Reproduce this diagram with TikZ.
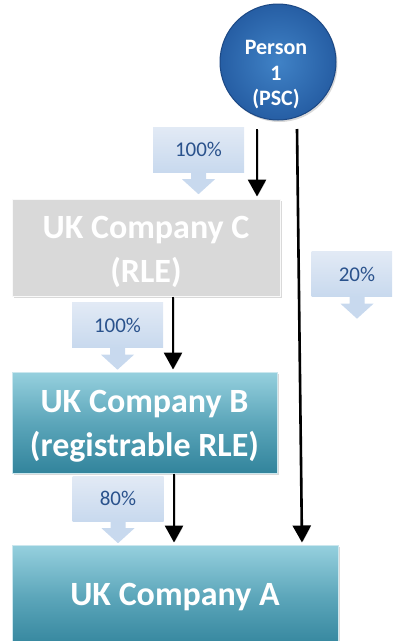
\documentclass[tikz,border=0pt]{standalone}
\usepackage{fontspec}
\setmainfont{Carlito}
\usetikzlibrary{arrows.meta,shadows,calc}
\definecolor{teallight}{RGB}{150,208,222}
\definecolor{tealmid}{RGB}{92,166,186}
\definecolor{tealdark}{RGB}{50,132,156}
\definecolor{greybox}{RGB}{217,217,217}
\definecolor{lbtop}{RGB}{226,234,245}
\definecolor{lbbot}{RGB}{200,217,238}
\definecolor{lbtext}{RGB}{42,82,140}
\definecolor{circin}{RGB}{64,130,198}
\definecolor{circout}{RGB}{38,94,164}
\definecolor{circedge}{RGB}{28,72,132}
\begin{document}
\begin{tikzpicture}[x=1pt,y=-1pt,
  companybox/.style={rectangle, inner sep=0pt,
    drop shadow={shadow xshift=1.5pt,shadow yshift=-2pt,opacity=0.3}},
  tealbox/.style={companybox, top color=teallight, bottom color=tealdark,
    middle color=tealmid, draw=teallight!50!white, line width=1pt},
  greyb/.style={companybox, fill=greybox, draw=white!85!greybox, line width=1pt},
  bigtext/.style={text=white, font=\fontsize{34}{44}\selectfont\bfseries,
    align=center, inner sep=0pt},
  pctbox/.style={rectangle, inner sep=0pt, minimum width=91pt, minimum height=45pt,
    top color=lbtop, bottom color=lbbot, text=lbtext,
    font=\fontsize{21}{25}\selectfont},
  pointer/.style={fill=lbbot},
  conn/.style={line width=2.6pt, black, shorten >=2pt,
    -{Triangle[width=18pt,length=17pt]},
    preaction={draw=black!25, opacity=0.6, transform canvas={xshift=1.2pt,yshift=-1.2pt}}},
]
\useasboundingbox (0,0) rectangle (392,641);
\clip (0,0) rectangle (392,641);

% person circle
\node[circle, minimum size=116pt, inner sep=0pt, inner color=circin, outer color=circout,
  draw=circedge, line width=1pt,
  drop shadow={shadow xshift=1.5pt,shadow yshift=-2pt,opacity=0.3}] (P) at (278,62) {};
\node[text=white, font=\fontsize{22}{25.5}\selectfont\bfseries, align=center, inner sep=0pt]
  (Pt) at (276,75) {Person\\1\\(PSC)};

% company boxes
\node[greyb, minimum width=268pt, minimum height=97pt] (C) at (146,247.5) {};
\node[bigtext] (Ct) at (146,252) {UK Company C\\(RLE)};
\node[tealbox, minimum width=265pt, minimum height=101pt] (B) at (144.5,422.5) {};
\node[bigtext] (Bt) at (144.5,426) {UK Company B\\(registrable RLE)};
\node[tealbox, minimum width=326pt, minimum height=104pt] (A) at (175,597) {};
\node[bigtext] (At) at (175,597.5) {UK Company A};

% percentage callouts
\foreach \n/\x/\y/\t in {L1/198.5/149.5/100\%, L2/117.5/325/100\%, L3/118/498.5/80\%, L4/357/274/20\%}{
  \node[pctbox] (\n) at (\x,\y) {\t};
  \fill[pointer] ($(\n.south)+(-7.5,0)$) -- ++(0,7) -- ++(-9,0)
    -- ($(\n.south)+(0,22)$) -- ($(\n.south)+(16.5,7)$) -- ++(-9,0) -- ++(0,-7) -- cycle;
}

% connectors
\coordinate (s1) at (257,129);
\coordinate (s2) at (297,129);
\draw[conn] (s1) -- ([xshift=111pt]C.north);
\draw[conn] (s2) -- ([xshift=127pt]A.north);
\draw[conn] ([xshift=27pt]C.south) -- ([xshift=28.5pt]B.north);
\draw[conn] ([xshift=29.5pt]B.south) -- ([xshift=-1pt]A.north);
\end{tikzpicture}
\end{document}
